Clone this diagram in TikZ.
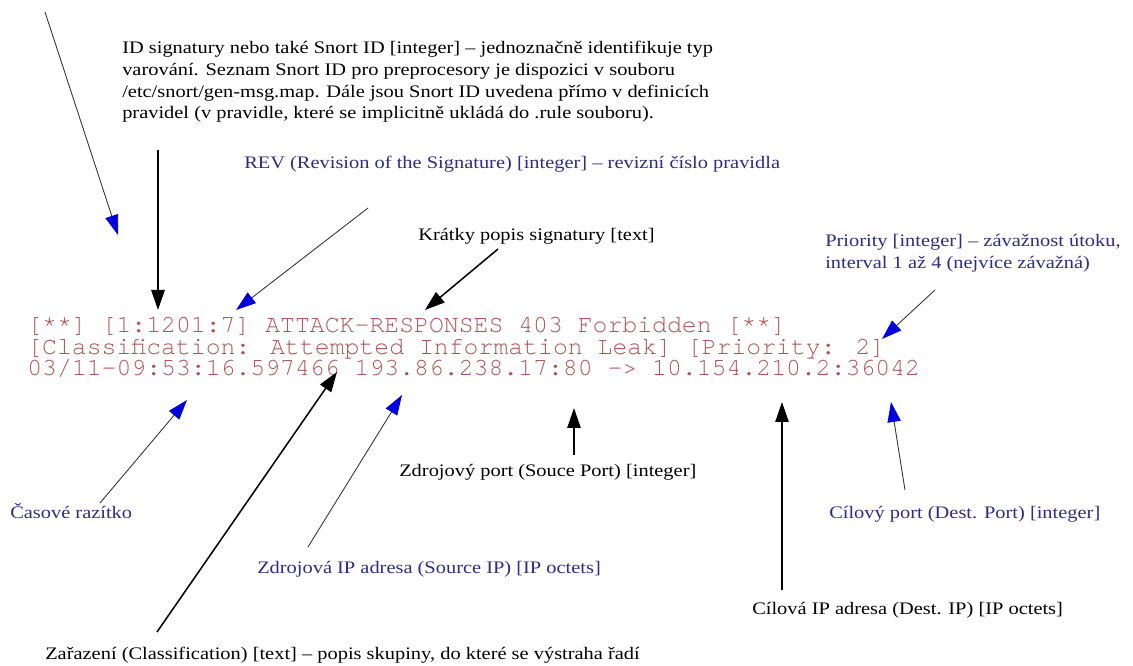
\documentclass[tikz,border=0pt]{standalone}
\usepackage{fontspec}
\setmainfont{Liberation Serif}[FakeStretch=1.16]
\newfontfamily\logfont{texgyrecursor-regular.otf}
\usetikzlibrary{arrows.meta}
\definecolor{logred}{RGB}{175,82,82}
\definecolor{labelblue}{RGB}{45,45,135}
\definecolor{headblue}{RGB}{0,0,220}
\begin{document}
\begin{tikzpicture}[x=0.75pt,y=-0.75pt,
  lbl/.style={anchor=west,inner sep=0pt,font=\fontsize{13.2}{16.3}\selectfont},
  bluelbl/.style={lbl,text=labelblue},
  logrecord/.style={anchor=north west,inner sep=0pt,align=left,text=logred,font=\logfont\fontsize{18.6}{16.1}\selectfont},
  blackarrow/.style={line width=1.15pt,-{Triangle[length=15pt,width=10pt]}},
  bluearrow/.style={line width=0.65pt,draw=black!80,-{Triangle[length=15pt,width=10pt,color=headblue,fill=headblue]}},
]
\useasboundingbox[fill=white] (0,0) rectangle (1133,666);

% the alert record, three lines
\node[logrecord] (record) at (27,317)
  {[**] [1:1201:7] ATTACK-RESPONSES 403 Forbidden [**]\\
   {[}Classification: Attempted Information Leak] [Priority: 2]\\
   03/11-09:53:16.597466 193.86.238.17:80 -> 10.154.210.2:36042};

% labels
\node[lbl,anchor=north west,align=left] (idtext) at (122,41)
  {ID signatury nebo také Snort ID [integer] – jednoznačně identifikuje typ\\
   varování. Seznam Snort ID pro preprocesory je dispozici v souboru\\
   /etc/snort/gen-msg.map. Dále jsou Snort ID uvedena přímo v definicích\\
   pravidel (v pravidle, které se implicitně ukládá do .rule souboru).};
\node[bluelbl] (rev) at (244,164) {REV (Revision of the Signature) [integer] – revizní číslo pravidla};
\node[lbl] (kratky) at (418,236) {Krátky popis signatury [text]};
\node[bluelbl,anchor=north west,align=left] (prio) at (825,234)
  {Priority [integer] – závažnost útoku,\\ interval 1 až 4 (nejvíce závažná)};
\node[lbl] (zport) at (399,472) {Zdrojový port (Souce Port) [integer]};
\node[bluelbl] (casove) at (10,511) {Časové razítko};
\node[bluelbl] (cport) at (829,514) {Cílový port (Dest. Port) [integer]};
\node[bluelbl] (zip) at (257,569) {Zdrojová IP adresa (Source IP) [IP octets]};
\node[lbl] (cip) at (752,610) {Cílová IP adresa (Dest. IP) [IP octets]};
\node[lbl] (zar) at (45,655) {Zařazení (Classification) [text] – popis skupiny, do které se výstraha řadí};

% arrow ends
\coordinate (tlS) at (45,12);   \coordinate (tlT) at (118,235);
\coordinate (idS) at (158,150); \coordinate (idT) at (158,310);
\coordinate (revS) at (368,208); \coordinate (revT) at (236,310);
\coordinate (krS) at (498,249); \coordinate (krT) at (425,310);
\coordinate (prS) at (935,290); \coordinate (prT) at (882,339);
\coordinate (casS) at (100,503); \coordinate (casT) at (187,400);
\coordinate (clS) at (157,632); \coordinate (clT) at (337,372);
\coordinate (zipS) at (308,547); \coordinate (zipT) at (402,395);
\coordinate (zpS) at (574,455); \coordinate (zpT) at (574,408);
\coordinate (cipS) at (782,590); \coordinate (cipT) at (782,402);
\coordinate (cpS) at (905,490); \coordinate (cpT) at (891,402);

% connectors
\draw[bluearrow] (tlS) -- (tlT);
\draw[blackarrow,line width=1.4pt] (idS) -- (idT);
\draw[bluearrow] (revS) -- (revT);
\draw[blackarrow] (krS) -- (krT);
\draw[bluearrow] (prS) -- (prT);
\draw[bluearrow] (casS) -- (casT);
\draw[blackarrow] (clS) -- (clT);
\draw[bluearrow] (zipS) -- (zipT);
\draw[blackarrow] (zpS) -- (zpT);
\draw[blackarrow] (cipS) -- (cipT);
\draw[bluearrow] (cpS) -- (cpT);
\end{tikzpicture}
\end{document}
